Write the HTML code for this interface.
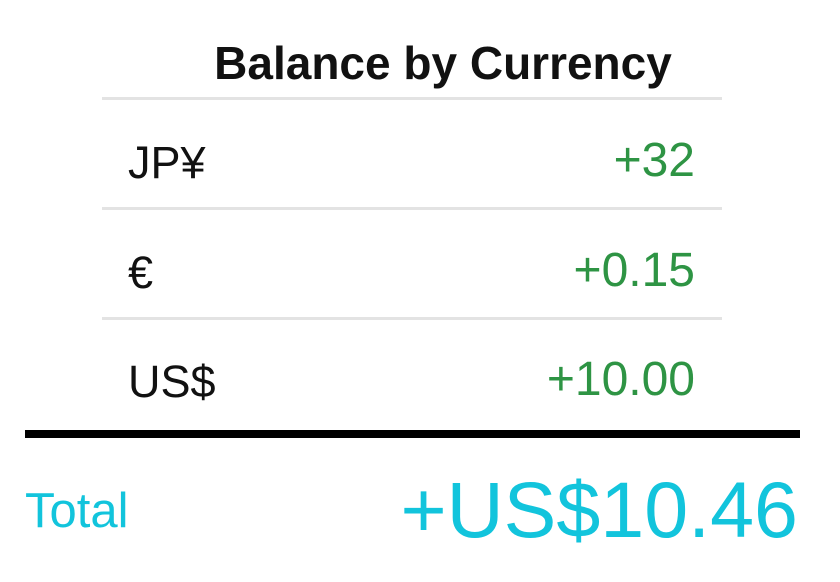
<!DOCTYPE html>
<html><head><meta charset="utf-8"><style>
body{margin:0;width:840px;height:582px;background:#fff;position:relative;overflow:hidden;font-family:"Liberation Sans",sans-serif}
.a{position:absolute;white-space:nowrap;line-height:1}
.sep{position:absolute;left:102px;width:620px;height:3px;background:#e3e3e3}
.lbl{left:128px;font-size:45px;color:#111}
.val{right:145px;font-size:48px;color:#2e9444;text-align:right}
</style></head><body>
<div class="a" style="left:0;width:886px;text-align:center;top:40px;font-size:46px;font-weight:bold;color:#111">Balance by Currency</div>
<div class="sep" style="top:97px"></div>
<div class="a lbl" style="top:140px">JP¥</div>
<div class="a val" style="top:137px">+32</div>
<div class="sep" style="top:207px"></div>
<div class="a lbl" style="top:250px">€</div>
<div class="a val" style="top:247px">+0.15</div>
<div class="sep" style="top:317px"></div>
<div class="a lbl" style="top:359px">US$</div>
<div class="a val" style="top:356px">+10.00</div>
<div class="a" style="left:25px;width:775px;top:430px;height:8px;background:#000"></div>
<div class="a" style="left:25px;top:487px;font-size:49px;color:#12c4dc">Total</div>
<div class="a" style="right:42px;top:470px;font-size:79px;color:#12c4dc">+US$10.46</div>
</body></html>
